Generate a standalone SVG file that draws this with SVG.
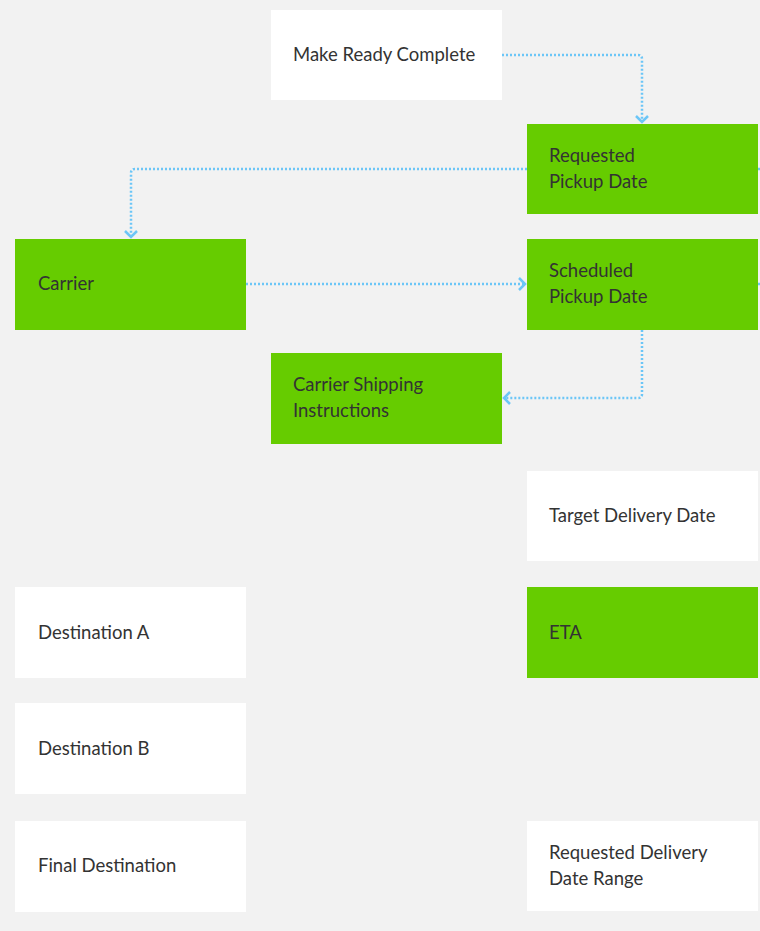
<svg xmlns="http://www.w3.org/2000/svg" width="760" height="931" viewBox="0 0 760 931">
<defs>
<style>
.bg{fill:#f2f2f2}
.w{fill:#ffffff}
.g{fill:#66cc00}
.t{font-family:Lato,"Open Sans","Liberation Sans",sans-serif;font-size:18.5px;fill:#333333}
.c{fill:none;stroke:#6cc6f7;stroke-width:2.5;stroke-dasharray:2 2}
</style>
<marker id="arr" viewBox="0 0 14 14" refX="11" refY="7" markerWidth="14" markerHeight="14" markerUnits="userSpaceOnUse" orient="auto">
<path d="M5,1 L11,7 L5,13" fill="none" stroke="#6cc6f7" stroke-width="2.5"/>
</marker>
</defs>
<rect class="bg" x="0" y="0" width="760" height="931"/>
<g id="connectors">
<path class="c" d="M502,55 H638 Q642,55 642,59 V122" marker-end="url(#arr)"/>
<path class="c" d="M527,169 H135 Q131,169 131,173 V237" marker-end="url(#arr)"/>
<path class="c" d="M246,284 H525" marker-end="url(#arr)"/>
<path class="c" d="M642,330 V394 Q642,398 638,398 H504" marker-end="url(#arr)"/>
<path class="c" d="M758,169 H760"/>
<path class="c" d="M758,284 H760"/>
</g>
<g id="make-ready-complete"><rect class="w" x="271" y="10" width="231" height="90"/><text class="t" x="293" y="61">Make Ready Complete</text></g>
<g id="requested-pickup-date"><rect class="g" x="527" y="124" width="231" height="90"/><text class="t" x="549" y="162">Requested</text><text class="t" x="549" y="188">Pickup Date</text></g>
<g id="carrier"><rect class="g" x="15" y="239" width="231" height="91"/><text class="t" x="38" y="290">Carrier</text></g>
<g id="scheduled-pickup-date"><rect class="g" x="527" y="239" width="231" height="91"/><text class="t" x="549" y="277">Scheduled</text><text class="t" x="549" y="303">Pickup Date</text></g>
<g id="carrier-shipping-instructions"><rect class="g" x="271" y="353" width="231" height="91"/><text class="t" x="293" y="391">Carrier Shipping</text><text class="t" x="293" y="417">Instructions</text></g>
<g id="target-delivery-date"><rect class="w" x="527" y="471" width="231" height="90"/><text class="t" x="549" y="522">Target Delivery Date</text></g>
<g id="eta"><rect class="g" x="527" y="587" width="231" height="91"/><text class="t" x="549" y="639">ETA</text></g>
<g id="destination-a"><rect class="w" x="15" y="587" width="231" height="91"/><text class="t" x="38" y="639">Destination A</text></g>
<g id="destination-b"><rect class="w" x="15" y="703" width="231" height="91"/><text class="t" x="38" y="755">Destination B</text></g>
<g id="final-destination"><rect class="w" x="15" y="821" width="231" height="91"/><text class="t" x="38" y="872">Final Destination</text></g>
<g id="requested-delivery-date-range"><rect class="w" x="527" y="821" width="231" height="90"/><text class="t" x="549" y="859">Requested Delivery</text><text class="t" x="549" y="885">Date Range</text></g>
</svg>
